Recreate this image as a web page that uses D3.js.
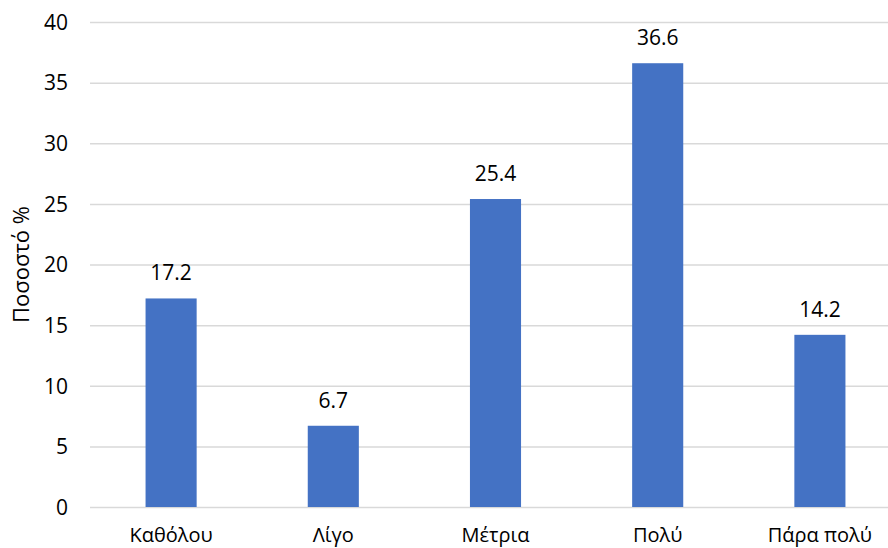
<!DOCTYPE html>
<html>
<head>
<meta charset="utf-8">
<script src="https://cdn.jsdelivr.net/npm/d3@7"></script>
<style>
  html, body { margin: 0; padding: 0; background: #fff; }
  svg { display: block; }
  text { font-family: "Open Sans", "Noto Sans", sans-serif; fill: #000; }
</style>
</head>
<body>
<div id="chart"></div>
<script>
// Response categories and their percentages
const categories = ["Καθόλου", "Λίγο", "Μέτρια", "Πολύ", "Πάρα πολύ"];
const values = [17.2, 6.7, 25.4, 36.6, 14.2];
const yTicks = [0, 5, 10, 15, 20, 25, 30, 35, 40];
const yTitle = "Ποσοστό %";

const width = 888, height = 548;
const plot = { left: 90, right: 901, top: 22, bottom: 507 };

const svg = d3.select("#chart").append("svg")
  .attr("width", width).attr("height", height);

const x = d3.scaleBand()
  .domain(categories)
  .range([plot.left, plot.right])
  .paddingInner(0.685)
  .paddingOuter(0.3425);

const y = d3.scaleLinear()
  .domain([0, 40])
  .range([plot.bottom, plot.top]);

// Horizontal gridlines with tick labels on the left
const yAxis = svg.append("g")
  .attr("transform", `translate(${plot.left},0)`)
  .call(d3.axisLeft(y).tickValues(yTicks).tickSize(-(plot.right - plot.left)).tickPadding(22).tickFormat(d3.format("d")));
yAxis.select(".domain").remove();
yAxis.selectAll(".tick line").attr("stroke", "#d9d9d9").attr("stroke-width", 1.5);
yAxis.selectAll(".tick text").style("font-size", "21px").attr("dy", "0.35em");

// Bars
svg.append("g").selectAll("rect")
  .data(values)
  .join("rect")
  .attr("x", (d, i) => x(categories[i]))
  .attr("y", d => y(d))
  .attr("width", x.bandwidth())
  .attr("height", d => y(0) - y(d))
  .attr("fill", "#4472c4");

// Value labels above bars
svg.append("g").selectAll("text")
  .data(values)
  .join("text")
  .attr("x", (d, i) => x(categories[i]) + x.bandwidth() / 2)
  .attr("y", d => y(d) - 18)
  .attr("text-anchor", "middle")
  .style("font-size", "21px")
  .text(d => d.toFixed(1));

// Category labels
svg.append("g").selectAll("text")
  .data(categories)
  .join("text")
  .attr("x", d => x(d) + x.bandwidth() / 2)
  .attr("y", plot.bottom + 35)
  .attr("text-anchor", "middle")
  .style("font-size", "20px")
  .text(d => d);

// Y-axis title
svg.append("text")
  .attr("transform", `translate(29,${(plot.top + plot.bottom) / 2}) rotate(-90)`)
  .attr("text-anchor", "middle")
  .style("font-size", "22px")
  .text(yTitle);
</script>
</body>
</html>
